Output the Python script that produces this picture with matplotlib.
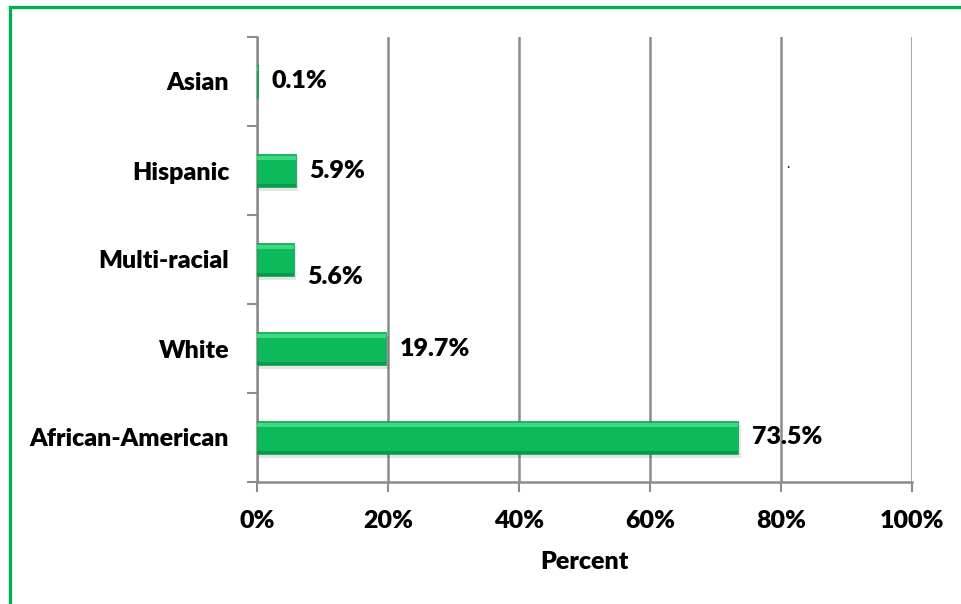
import matplotlib.pyplot as plt
from matplotlib.patches import Rectangle

# data
groups = ['African-American', 'White', 'Multi-racial', 'Hispanic', 'Asian']
percent = [73.5, 19.7, 5.6, 5.9, 0.1]
labels = ['73.5%', '19.7%', '5.6%', '5.9%', '0.1%']
label_dy = [0, 0, -18, 0, 0]   # Multi-racial label sits a little lower
xticks = [0, 20, 40, 60, 80, 100]

plt.rcParams['font.family'] = ['Lato', 'DejaVu Sans']
FS = 18
FW = 'heavy'

fig = plt.figure(figsize=(9.62, 6.04), dpi=100)
ax = fig.add_axes([257 / 962, 1 - 482 / 604, 655 / 962, 445 / 604])

y = list(range(len(groups)))
h = 0.38
grey = '#8c8c8c'

# shadow, body, highlight and dark edge to fake the bevel look
ax.barh([v - 0.045 for v in y], [p + 0.4 if p > 1 else 0 for p in percent], height=h,
        color='#000000', alpha=0.10, zorder=2)
ax.barh(y, percent, height=h, color='#0cb95b', edgecolor='#0a9f4e', linewidth=0.5, zorder=3)
ax.barh([v + h * 0.36 for v in y], percent, height=h * 0.12, color='#3fd883', linewidth=0, zorder=4)
ax.barh([v - h * 0.44 for v in y], percent, height=h * 0.10, color='#089a4c', linewidth=0, zorder=4)

for i, (p, lab) in enumerate(zip(percent, labels)):
    ax.annotate(lab, (p, i), xytext=(10, label_dy[i] * 0.72), textcoords='offset points',
                va='center', ha='left', fontsize=FS, fontweight=FW, zorder=5)

ax.set_xlim(0, 100)
ax.set_ylim(-0.5, len(groups) - 0.5)
ax.set_xticks(xticks)
ax.set_xticklabels([f'{t}%' for t in xticks], fontsize=FS, fontweight=FW)
ax.set_yticks(y)
ax.set_yticklabels(groups, fontsize=FS, fontweight=FW)
ax.set_yticks([v - 0.5 for v in range(len(groups) + 1)], minor=True)
ax.tick_params(axis='y', which='major', length=0, pad=20)
ax.tick_params(axis='y', which='minor', length=7, width=1.5, color=grey, direction='out')
ax.tick_params(axis='x', length=7, width=1.5, color=grey, pad=13)

ax.grid(axis='x', color=grey, linewidth=1.8, zorder=0)
ax.set_axisbelow(True)
for s in ['top', 'right']:
    ax.spines[s].set_visible(False)
for s in ['left', 'bottom']:
    ax.spines[s].set_color(grey)
    ax.spines[s].set_linewidth(1.8)

ax.set_xlabel('Percent', fontsize=FS, fontweight=FW, labelpad=14)

# stray dot in the original
ax.text(81.1, 3, '.', fontsize=10, ha='center', va='bottom')

# green frame (only top and left edges fall inside the image)
fig.patches.append(Rectangle((10 / 962, -0.2), 1.2, 1 - 7 / 604 + 0.2, transform=fig.transFigure,
                             fill=False, edgecolor='#00b050', linewidth=2.4, clip_on=False))

fig.savefig('out.png', dpi=100)
